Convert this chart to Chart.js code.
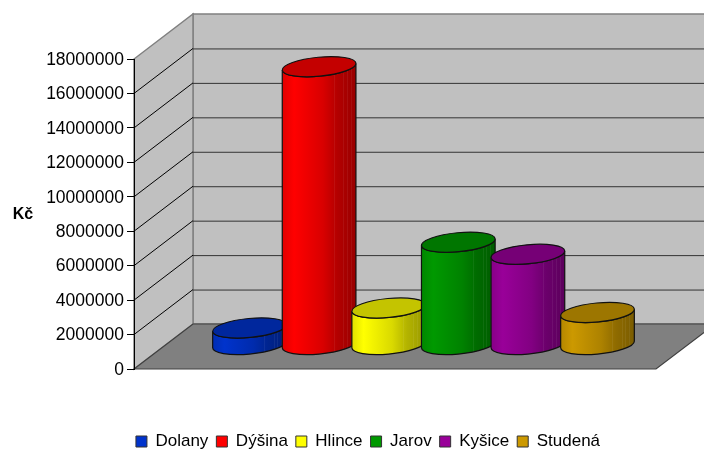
<!DOCTYPE html>
<html><head><meta charset="utf-8">
<style>html,body{margin:0;padding:0;background:#fff}#w{width:704px;height:450px;position:relative}</style>
<script src="https://cdn.jsdelivr.net/npm/chart.js@4"></script></head>
<body><div id="w"><canvas id="c" width="704" height="450"></canvas></div>
<script>
const categories = [''];
const seriesNames = ['Dolany','Dýšina','Hlince','Jarov','Kyšice','Studená'];
const seriesValues = [990000,16160000,2150000,5970000,5270000,1890000];
const seriesColors = [[0,51,204],[255,0,0],[255,255,0],[0,153,0],[153,0,153],[204,153,0]];
const yMax = 18000000, yStep = 2000000;
const axisTitle = 'Kč';
const FONT = '"Liberation Sans", Arial, sans-serif';
const depthX = 59, depthY = 45, barDX = 28.5, barDY = 24;
const legendShiftX = 40, legendShiftY = 10;
const rgb = (c,f)=>`rgb(${c.map(v=>Math.round(v*f)).join(',')})`;

const scene = {
  id:'scene',
  afterLayout(chart){
    const l=chart.legend;
    l.left+=legendShiftX;l.right+=legendShiftX;l.top+=legendShiftY;l.bottom+=legendShiftY;
  },
  beforeDraw(chart){
    const {ctx,chartArea:a,scales:{y}} = chart;
    const L=a.left,R=a.right,B=a.bottom,T=a.top;
    const poly=(pts,fill,stroke,w=1)=>{ctx.beginPath();pts.forEach((p,i)=>i?ctx.lineTo(p[0],p[1]):ctx.moveTo(p[0],p[1]));ctx.closePath();
      ctx.fillStyle=fill;ctx.fill();ctx.strokeStyle=stroke;ctx.lineWidth=w;ctx.stroke();};
    ctx.save();
    poly([[L+depthX,T-depthY],[R+depthX,T-depthY],[R+depthX,B-depthY],[L+depthX,B-depthY]],'#c0c0c0','#808080',1.5);
    poly([[L,B],[L+depthX,B-depthY],[L+depthX,T-depthY],[L,T]],'#c0c0c0','#808080',1.5);
    y.ticks.forEach(t=>{
      if(t.value===0||t.value===yMax)return;
      const py=y.getPixelForValue(t.value);
      ctx.strokeStyle='#000';ctx.lineWidth=1;
      ctx.beginPath();ctx.moveTo(L,py);ctx.lineTo(L+depthX,py-depthY);ctx.stroke();
      ctx.strokeStyle='#333';ctx.lineWidth=1;
      ctx.beginPath();ctx.moveTo(L+depthX,py-depthY+.5);ctx.lineTo(R+depthX,py-depthY+.5);ctx.stroke();
    });
    poly([[L,B],[L+depthX,B-depthY],[R+depthX,B-depthY],[R,B]],'#808080','#404040',1.2);
    ctx.fillStyle='#000';ctx.font='bold 16px '+FONT;ctx.textAlign='center';ctx.textBaseline='middle';
    ctx.fillText(axisTitle,23,215);
    ctx.restore();
  },
  beforeDatasetDraw(){return false;},
  afterDatasetsDraw(chart){
    const ctx=chart.ctx;
    seriesNames.forEach((n,i)=>{
      const el=chart.getDatasetMeta(i).data[0];
      const col=seriesColors[i];
      const cx=el.x+barDX, rx=el.width/2, ry=9.5, phi=-0.095;
      const topY=el.y-barDY, botY=el.base-barDY;
      const t0=Math.atan2(-ry*Math.sin(phi),rx*Math.cos(phi));
      const ex=rx*Math.cos(t0)*Math.cos(phi)-ry*Math.sin(t0)*Math.sin(phi);
      const ey=rx*Math.cos(t0)*Math.sin(phi)+ry*Math.sin(t0)*Math.cos(phi);
      const body=()=>{ctx.beginPath();ctx.moveTo(cx-ex,topY-ey);ctx.lineTo(cx-ex,botY-ey);
        ctx.ellipse(cx,botY,rx,ry,phi,t0+Math.PI,t0,true);
        ctx.lineTo(cx+ex,topY+ey);
        ctx.ellipse(cx,topY,rx,ry,phi,t0,t0+Math.PI,false);ctx.closePath();};
      const g=ctx.createLinearGradient(cx-ex,0,cx+ex,0);
      g.addColorStop(0,rgb(col,.88));g.addColorStop(.16,rgb(col,1));g.addColorStop(.55,rgb(col,.85));
      g.addColorStop(.75,rgb(col,.7));g.addColorStop(1,rgb(col,.6));
      ctx.save();
      body();ctx.fillStyle=g;ctx.fill();
      ctx.save();ctx.clip();ctx.strokeStyle='rgba(255,255,255,.06)';ctx.lineWidth=1;
      [.7,.83,.88,.93].forEach(f=>{const x=Math.round(cx-ex+2*ex*f)+.5;ctx.beginPath();ctx.moveTo(x,topY-12);ctx.lineTo(x,botY+12);ctx.stroke();});
      ctx.restore();
      body();ctx.strokeStyle='#111';ctx.lineWidth=1.2;ctx.stroke();
      ctx.beginPath();ctx.ellipse(cx,topY,rx,ry,phi,0,Math.PI*2);ctx.fillStyle=rgb(col,.77);ctx.fill();ctx.stroke();
      ctx.restore();
    });
  }
};

new Chart(document.getElementById('c'),{
  type:'bar',
  data:{labels:categories,datasets:seriesNames.map((n,i)=>({label:n,data:[seriesValues[i]],
    backgroundColor:rgb(seriesColors[i],1),borderColor:'#333',borderWidth:1,
    categoryPercentage:.8,barPercentage:1.063}))},
  plugins:[scene],
  options:{
    responsive:false,animation:false,
    layout:{padding:{left:0,right:48,top:59,bottom:0}},
    plugins:{tooltip:{enabled:false},title:{display:false},
      legend:{position:'bottom',labels:{boxWidth:11,boxHeight:11,padding:8,color:'#000',font:{family:FONT,size:17}}}},
    scales:{
      x:{display:true,grid:{display:false},border:{display:false},ticks:{display:false},
        afterFit:s=>{s.height=46;}},
      y:{min:0,max:yMax,afterFit:s=>{s.width=134;},
        border:{color:'#000',width:1},
        grid:{drawOnChartArea:false,drawTicks:true,tickLength:7,color:'#000'},
        ticks:{stepSize:yStep,padding:3,labelOffset:1,color:'#000',font:{family:FONT,size:17.5},callback:v=>String(v)}}
    }
  }
});
</script></body></html>
